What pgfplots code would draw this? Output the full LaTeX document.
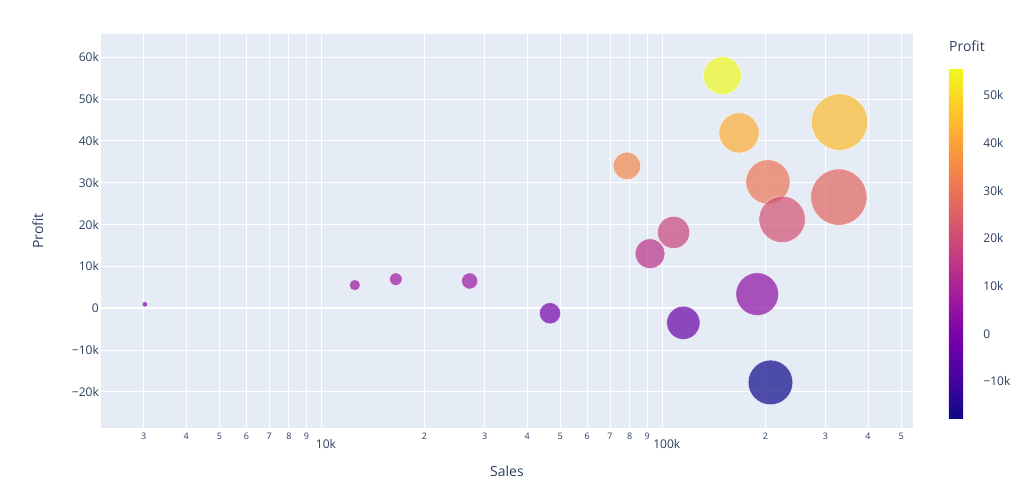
\documentclass[border=0pt]{standalone}
\usepackage{pgfplots}
\pgfplotsset{compat=1.18}
\usepackage{pgfplotstable}
\usepackage{fontspec}
\setmainfont{Open Sans}

\definecolor{plotbg}{HTML}{E5ECF6}
\definecolor{txt}{HTML}{2A3F5F}

% small digit labels of the log axis, and the decade labels set lower
\newcommand\sm[1]{{\fontsize{9}{9}\selectfont #1}}
\newcommand\dec[1]{\raisebox{-9pt}{\hspace*{8pt}#1}}

% sales and profit per sub-category, in thousands
\pgfplotstableread{
name Sales Profit
Accessories 167.380 41.937
Appliances 107.532 18.138
Art 27.119 6.528
Binders 203.413 30.222
Bookcases 114.880 -3.473
Chairs 328.449 26.590
Copiers 149.528 55.618
Envelopes 16.476 6.964
Fasteners 3.024 0.950
Furnishings 91.705 13.059
Labels 12.486 5.546
Machines 189.239 3.385
Paper 78.479 34.054
Phones 330.007 44.516
Storage 223.844 21.279
Supplies 46.674 -1.189
Tables 206.966 -17.725
}\subcats

\begin{document}
\begin{tikzpicture}
\useasboundingbox (0,0) rectangle (1024pt,500pt);
\begin{axis}[
  at={(101pt,72pt)}, anchor=south west,
  width=812pt, height=394pt, scale only axis,
  xmode=log, xmin=2.248, xmax=542,
  ymin=-28.62, ymax=65.58,
  axis background/.style={fill=plotbg},
  axis line style={draw=none},
  major tick length=0pt, minor tick length=0pt,
  grid=major, grid style={white, line width=1pt},
  xtick={3,4,5,6,7,8,9,10,20,30,40,50,60,70,80,90,100,200,300,400,500},
  xticklabels={\sm{3},\sm{4},\sm{5},\sm{6},\sm{7},\sm{8},\sm{9},\dec{10k},
    \sm{2},\sm{3},\sm{4},\sm{5},\sm{6},\sm{7},\sm{8},\sm{9},\dec{100k},
    \sm{2},\sm{3},\sm{4},\sm{5}},
  xticklabel style={anchor=base, yshift=-11.2pt, inner sep=0pt, text=txt,
    font=\fontsize{12}{12}\selectfont},
  ytick={-20,-10,10,20,30,40,50,60},
  yticklabels={−20k,−10k,10k,20k,30k,40k,50k,60k},
  extra y ticks={0}, extra y tick labels={0},
  extra y tick style={grid style={white, line width=2pt}},
  yticklabel style={anchor=east, xshift=-1pt, inner sep=1pt, text=txt,
    font=\fontsize{12}{12}\selectfont},
  xlabel={Sales}, ylabel={Profit},
  xlabel style={at={(axis description cs:0.5,-0.1236)}, anchor=base,
    inner sep=0pt, text=txt, font=\fontsize{14}{14}\selectfont},
  ylabel style={at={(axis description cs:-0.0779,0.5)}, anchor=center,
    inner sep=0pt, text=txt, font=\fontsize{14}{14}\selectfont},
  colormap={plasma}{rgb255=(13,8,135) rgb255=(70,3,159) rgb255=(114,1,168)
    rgb255=(156,23,158) rgb255=(189,55,134) rgb255=(216,87,107)
    rgb255=(237,121,83) rgb255=(251,159,58) rgb255=(253,202,38)
    rgb255=(240,249,33)},
  point meta min=-17.725, point meta max=55.618,
  colorbar,
  colorbar style={
    at={(parent axis.south east)}, anchor=south west,
    xshift=27.4pt, yshift=9.7pt,
    width=30pt, height=350pt, scale only axis,
    axis line style={draw=none}, major tick length=0pt,
    ytick={-10,0,10,20,30,40,50},
    yticklabels={−10k,0,10k,20k,30k,40k,50k},
    yticklabel style={anchor=west, inner sep=0pt, xshift=4.3pt, text=txt,
      font=\fontsize{12}{12}\selectfont},
    title={Profit},
    title style={at={(axis description cs:0,1)}, anchor=base west,
      yshift=10.3pt, inner sep=0pt, text=txt,
      font=\fontsize{14}{14}\selectfont},
  },
]
\addplot[scatter, only marks, mark=*,
  point meta=\thisrow{Profit},
  scatter/use mapped color={draw=white, fill=mapped color,
    fill opacity=0.7, draw opacity=0.7, line width=0.5pt},
  visualization depends on={1.55*sqrt(\thisrow{Sales}) \as \rad},
  scatter/@pre marker code/.append style={/tikz/mark size=\rad}]
  table[x=Sales, y=Profit] {\subcats};
\end{axis}
\end{tikzpicture}
\end{document}
